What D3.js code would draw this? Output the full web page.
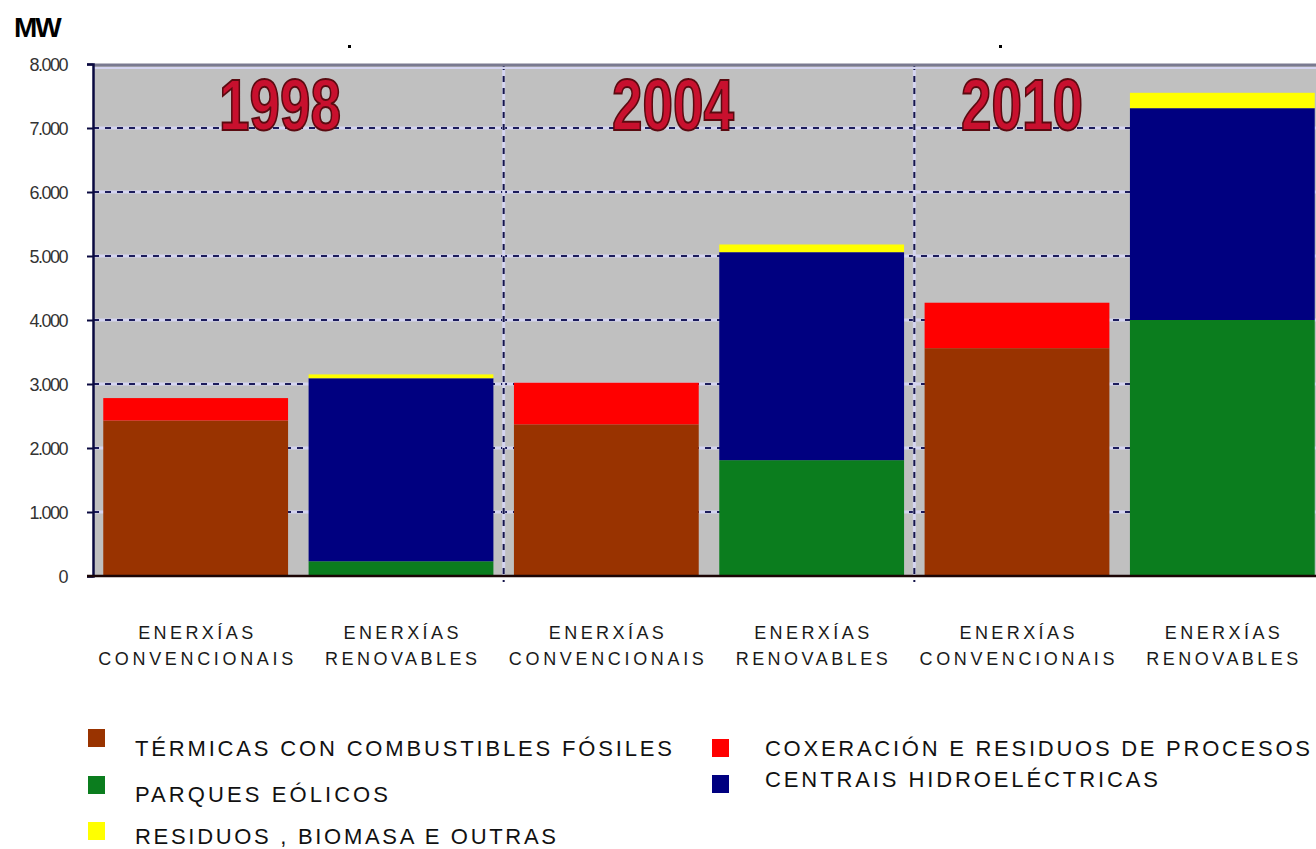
<!DOCTYPE html>
<html>
<head>
<meta charset="utf-8">
<script src="https://cdn.jsdelivr.net/npm/d3@7/dist/d3.min.js"></script>
<style>
  html, body { margin: 0; padding: 0; background: #ffffff; overflow: hidden; }
  svg { display: block; }
</style>
</head>
<body>
<svg id="chart" width="1316" height="849"></svg>
<script>
// ---------------- DATA ----------------
const categories = ["1998-conv", "1998-renov", "2004-conv", "2004-renov", "2010-conv", "2010-renov"];
const catLine1 = ["ENERXÍAS", "ENERXÍAS", "ENERXÍAS", "ENERXÍAS", "ENERXÍAS", "ENERXÍAS"];
const catLine2 = ["CONVENCIONAIS", "RENOVABLES", "CONVENCIONAIS", "RENOVABLES", "CONVENCIONAIS", "RENOVABLES"];
const years = ["1998", "2004", "2010"];

const termicas   = [2430, 0, 2370, 0, 3560, 0];
const coxeracion = [350, 0, 650, 0, 710, 0];
const eolicos    = [0, 230, 0, 1810, 0, 4000];
const hidro      = [0, 2860, 0, 3250, 0, 3310];
const residuos   = [0, 60, 0, 120, 0, 240];

const seriesKeys   = ["termicas", "coxeracion", "eolicos", "hidro", "residuos"];
const seriesNames  = ["TÉRMICAS CON COMBUSTIBLES FÓSILES", "COXERACIÓN E RESIDUOS DE PROCESOS",
                      "PARQUES EÓLICOS", "CENTRAIS HIDROELÉCTRICAS", "RESIDUOS , BIOMASA E OUTRAS"];
const seriesColors = ["#993300", "#ff0000", "#0b7d1e", "#000080", "#ffff00"];

const yTicks = [0, 1000, 2000, 3000, 4000, 5000, 6000, 7000, 8000];
const yMax = 8000;

// ---------------- BUILD ----------------
const svg = d3.select("#chart");

const x = d3.scaleBand().domain(categories).range([93, 1325]).paddingInner(0.1).paddingOuter(0.05);
const y = d3.scaleLinear().domain([0, yMax]).range([576, 64]);

const table = categories.map((c, i) => ({
  cat: c, termicas: termicas[i], coxeracion: coxeracion[i], eolicos: eolicos[i],
  hidro: hidro[i], residuos: residuos[i]
}));
const stacked = d3.stack().keys(seriesKeys)(table);

// plot background
svg.append("rect").attr("x", 93).attr("y", y(yMax)).attr("width", 1316 - 93).attr("height", y(0) - y(yMax))
  .attr("fill", "#c0c0c0");

// horizontal gridlines
const grid = svg.append("g");
yTicks.filter(t => t > 0 && t < yMax).forEach(t => {
  grid.append("line").attr("x1", 93).attr("x2", 1316).attr("y1", y(t)).attr("y2", y(t))
    .attr("stroke", "#d4d4f0").attr("stroke-width", 3);
  grid.append("line").attr("x1", 93).attr("x2", 1316).attr("y1", y(t)).attr("y2", y(t))
    .attr("stroke", "#1c1c5c").attr("stroke-width", 2).attr("stroke-dasharray", "6,6");
});

// vertical separators between year groups
const seps = [1, 3].map(i => (x(categories[i]) + x.bandwidth() + x(categories[i + 1])) / 2);
seps.forEach(sx => {
  grid.append("line").attr("x1", sx).attr("x2", sx).attr("y1", y(yMax)).attr("y2", y(0))
    .attr("stroke", "#d4d4f0").attr("stroke-width", 3);
  grid.append("line").attr("x1", sx).attr("x2", sx).attr("y1", y(yMax)).attr("y2", y(0) + 6)
    .attr("stroke", "#14144a").attr("stroke-width", 2).attr("stroke-dasharray", "6,6");
});

// top border
svg.append("line").attr("x1", 93).attr("x2", 1316).attr("y1", y(yMax) + 1).attr("y2", y(yMax) + 1)
  .attr("stroke", "#7a7a90").attr("stroke-width", 3);
svg.append("line").attr("x1", 93).attr("x2", 1316).attr("y1", y(yMax) + 4).attr("y2", y(yMax) + 4)
  .attr("stroke", "#d4d4f0").attr("stroke-width", 2);

// bars
svg.append("g").selectAll("g").data(stacked).join("g")
  .attr("fill", (d, i) => seriesColors[i])
  .selectAll("rect").data(d => d.filter(s => s[1] - s[0] > 0)).join("rect")
  .attr("x", d => x(d.data.cat))
  .attr("width", x.bandwidth())
  .attr("y", d => y(d[1]))
  .attr("height", d => y(d[0]) - y(d[1]));

// year labels
const yearX = [280, 673, 1022];
svg.append("g").selectAll("text").data(years).join("text")
  .attr("x", (d, i) => yearX[i]).attr("y", 130)
  .attr("text-anchor", "middle")
  .attr("font-family", "'Liberation Sans Narrow', 'Arial Narrow', 'Liberation Sans', sans-serif")
  .attr("font-weight", "bold").attr("font-size", 72)
  .attr("textLength", 122).attr("lengthAdjust", "spacingAndGlyphs")
  .attr("fill", "#c8102e").attr("stroke", "#5a0a10").attr("stroke-width", 2)
  .text(d => d);

// left axis
const yAxis = d3.axisLeft(y).tickValues(yTicks).tickSize(6).tickFormat(d => d3.format(",")(d).replace(/,/g, "."));
const ya = svg.append("g").attr("transform", "translate(93,0)").call(yAxis);
ya.select(".domain").attr("stroke", "#0a0a40").attr("stroke-width", 2.5);
ya.selectAll(".tick line").attr("stroke", "#0a0a40").attr("stroke-width", 2);
ya.selectAll(".tick text").attr("x", -26).attr("dy", "0.36em")
  .attr("font-family", "'Liberation Sans', Arial, sans-serif").attr("font-size", 18)
  .attr("fill", "#333").attr("letter-spacing", "-1.5");

// bottom axis line
svg.append("line").attr("x1", 87).attr("x2", 1316).attr("y1", y(0)).attr("y2", y(0))
  .attr("stroke", "#1a0505").attr("stroke-width", 2.5);

// category labels
const catG = svg.append("g").attr("font-family", "'Liberation Sans', Arial, sans-serif")
  .attr("font-size", 18).attr("fill", "#1a1a1a").attr("text-anchor", "middle");
categories.forEach((c, i) => {
  const cx = x(c) + x.bandwidth() / 2;
  catG.append("text").attr("x", cx).attr("y", 639).attr("textLength", 115)
    .attr("lengthAdjust", "spacing").text(catLine1[i]);
  catG.append("text").attr("x", cx).attr("y", 665)
    .attr("textLength", catLine2[i] === "CONVENCIONAIS" ? 195 : 152)
    .attr("lengthAdjust", "spacing").text(catLine2[i]);
});

// MW label
svg.append("text").attr("x", 14).attr("y", 37).attr("font-family", "'Liberation Sans', Arial, sans-serif")
  .attr("font-weight", "bold").attr("font-size", 28).attr("letter-spacing", "-2")
  .attr("fill", "#000").text("MW");

// stray dots at top
[348, 999].forEach(dx => svg.append("rect").attr("x", dx).attr("y", 45).attr("width", 3).attr("height", 3).attr("fill", "#000"));

// legend
const legendItems = [
  { k: 0, sx: 88, sy: 729, tx: 135, ty: 756, w: 537 },
  { k: 2, sx: 88, sy: 776, tx: 135, ty: 802, w: 253 },
  { k: 4, sx: 88, sy: 822, tx: 135, ty: 844, w: 421 },
  { k: 1, sx: 712, sy: 739, tx: 765, ty: 756, w: 545 },
  { k: 3, sx: 712, sy: 775, tx: 765, ty: 787, w: 393 }
];
const lg = svg.append("g");
legendItems.forEach(it => {
  lg.append("rect").attr("x", it.sx).attr("y", it.sy).attr("width", 17).attr("height", 18)
    .attr("fill", seriesColors[it.k]);
  lg.append("text").attr("x", it.tx).attr("y", it.ty)
    .attr("font-family", "'Liberation Sans', Arial, sans-serif").attr("font-size", 22)
    .attr("fill", "#111").attr("textLength", it.w).attr("lengthAdjust", "spacing")
    .text(seriesNames[it.k]);
});
</script>
</body>
</html>
